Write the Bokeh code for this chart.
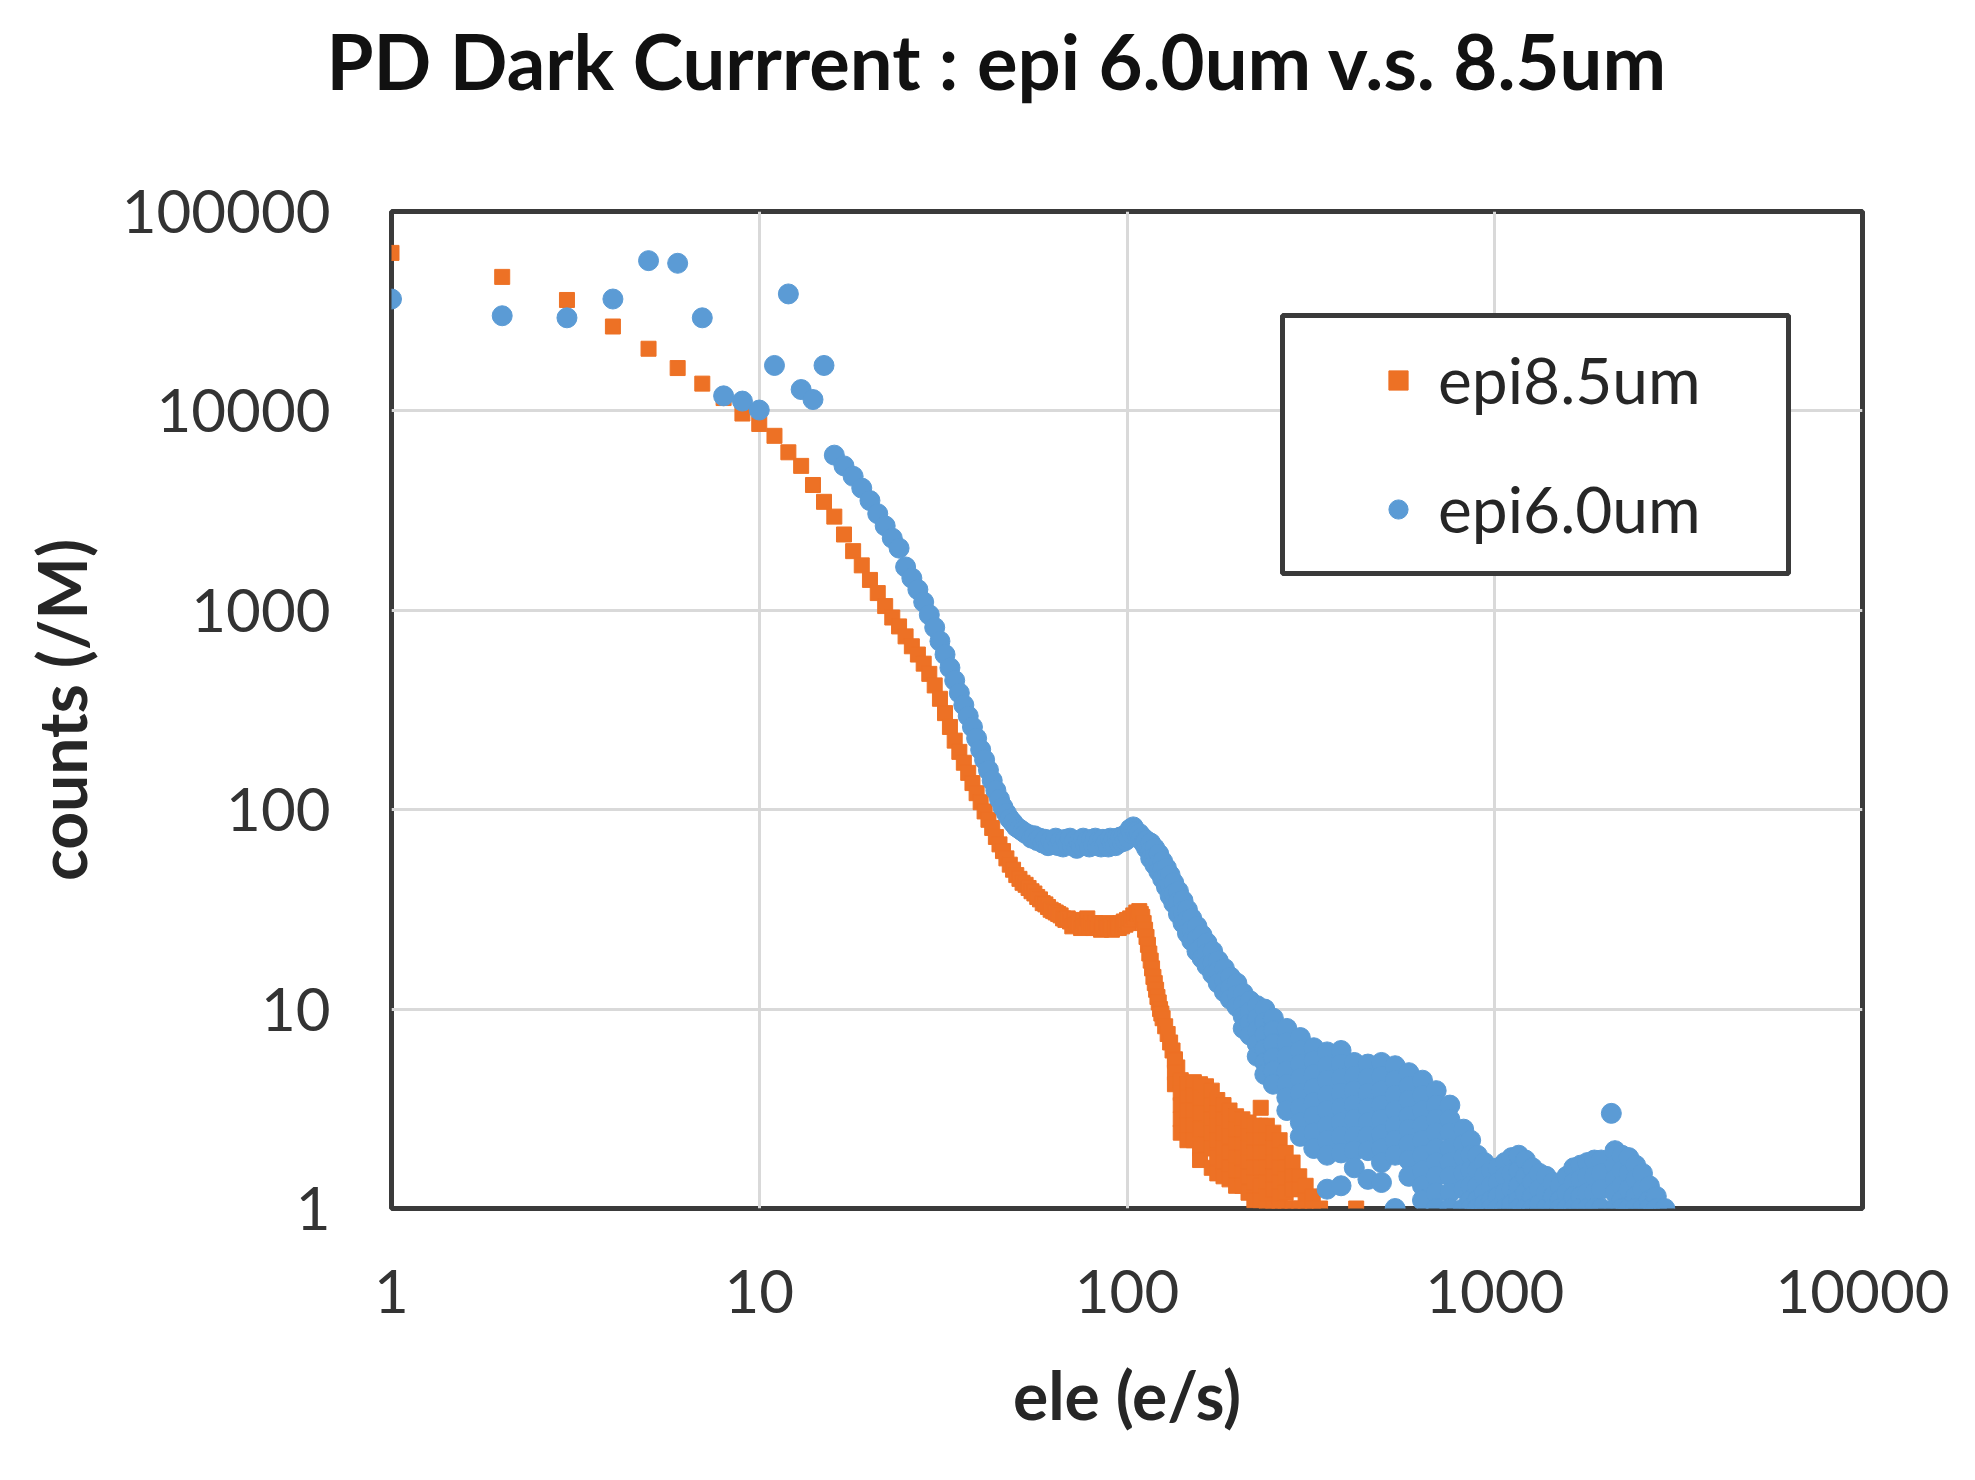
from bokeh.plotting import figure
from bokeh.models import Legend, LegendItem, FixedTicker, Title, BoxAnnotation
from bokeh.embed import file_html
from bokeh.resources import INLINE

ORANGE = "#ED7125"
BLUE = "#5B9BD5"

# ---- epi8.5um : one value per x (x = 1..50, then 51..125, then a few more)
o_x_head = list(range(1, 51))
o_y_head = [62000, 47000, 36000, 26500, 20500, 16400, 13700, 11600, 9700, 8600,
            7500, 6200, 5300, 4250, 3500, 2950, 2400, 1980, 1680, 1420,
            1220, 1050, 920, 830, 740, 660, 600, 540, 480, 420,
            360, 305, 260, 222, 195, 172, 153, 136, 121, 109,
            98, 89, 81, 73, 67, 62, 57, 53, 50, 47]
o_x_mid = list(range(51, 126)) + [127, 129, 131, 133, 135, 137]
o_y_mid = [45, 43, 42, 40.5, 39, 38, 36.5, 35.5, 34, 33.5,
           32.5, 31.5, 31, 30.5, 30, 29.5, 28.5, 28, 28.5, 27.5,
           26, 28, 26.5, 27, 25.5, 27.5, 26, 28.5, 26, 27,
           25.5, 27, 25.5, 26.5, 25, 26.5, 25.5, 27, 25.5, 26,
           25, 26.5, 25.5, 26, 25.5, 27, 26, 27.5, 26.5, 28,
           27, 28.5, 28, 29.5, 29, 30.5, 30, 31, 30, 29,
           27, 25, 23, 21, 19, 17.5, 16, 14.5, 13.5, 12.5,
           11.5, 10.8, 10, 9.5, 9,
           8.2, 7.5, 6.8, 6.2, 5.6, 5.1]
# tail: several counts read at the same x
o_tail_x = [135, 140, 146, 152, 158, 164, 170, 176, 183, 190, 198, 206, 214,
            222, 231, 240, 250, 260, 270, 282, 294, 306, 320, 335, 420]
o_tail_y = [[5.5, 4.8, 4.2],
            [4.4, 3.8, 3.3, 2.8, 2.4],
            [4.2, 3.6, 3.1, 2.6, 2.2],
            [4.3, 3.7, 3.1, 2.6, 2.2],
            [4.2, 3.6, 3.0, 2.5, 2.0, 1.75],
            [4.1, 3.5, 3.0, 2.5, 2.1],
            [3.9, 3.3, 2.8, 2.4, 2.0, 1.6],
            [3.5, 3.0, 2.6, 2.2, 1.8, 1.5],
            [3.3, 2.8, 2.4, 2.0, 1.7, 1.45],
            [3.1, 2.7, 2.3, 1.9, 1.6, 1.4],
            [2.9, 2.5, 2.1, 1.8, 1.55, 1.3],
            [2.8, 2.4, 2.1, 1.8, 1.5, 1.3],
            [2.7, 2.3, 2.0, 1.7, 1.45, 1.2],
            [2.6, 2.2, 1.9, 1.6, 1.35, 1.1],
            [3.2, 2.6, 2.2, 1.9, 1.6, 1.3, 1.1],
            [2.6, 2.2, 1.9, 1.6, 1.35, 1.15, 1.0],
            [2.4, 2.0, 1.7, 1.45, 1.25, 1.0],
            [2.2, 1.85, 1.6, 1.35, 1.15, 1.0],
            [1.9, 1.6, 1.4, 1.2, 1.0],
            [1.7, 1.45, 1.25, 1.0],
            [1.45, 1.25, 1.0],
            [1.3, 1.1, 1.0],
            [1.15, 1.0],
            [1.0],
            [1.0]]

# ---- epi6.0um
b_x_head = list(range(1, 51))
b_y_head = [36400, 30000, 29300, 36400, 56700, 55000, 29300, 11900, 11200, 10100,
            16900, 38600, 12800, 11400, 16900, 6000, 5300, 4700, 4100, 3550,
            3050, 2650, 2300, 2050, 1650, 1450, 1270, 1100, 950, 820,
            700, 600, 515, 445, 385, 335, 295, 260, 228, 200,
            178, 158, 140, 125, 113, 103, 96, 90, 86, 82]
b_x_mid = list(range(51, 113))
b_y_mid = [80, 78, 76, 75, 72, 74, 70, 72, 68, 71,
           66, 70, 67, 72, 66, 70, 65, 71, 67, 72,
           66, 70, 64, 69, 66, 72, 67, 70, 65, 71,
           67, 72, 66, 70, 65, 71, 67, 69, 65, 72,
           68, 71, 66, 72, 68, 73, 69, 74, 70, 75,
           72, 80, 76, 82, 78, 77, 74, 76, 71, 73,
           68, 70]
b_tail_x = [113, 116, 119, 122, 125, 128, 131, 134, 138, 142, 146, 150, 155,
            160, 165, 171, 177, 184, 191, 199, 207, 216, 226, 237, 250, 272,
            296, 322, 350, 382, 415, 452, 492, 536, 584, 636, 693, 755, 823,
            860, 897, 937, 978, 1020, 1066, 1112, 1162, 1212, 1266, 1322,
            1380, 1440, 1504, 1570, 1640, 1712, 1787, 1866, 1948, 2075,
            2123, 2216, 2314, 2416, 2522, 2633, 2750, 2900]
b_tail_y = [[70, 64],
            [68, 62, 57],
            [64, 58, 53],
            [60, 54, 49],
            [55, 50, 45],
            [51, 46, 41],
            [47, 42, 37],
            [43, 38, 34],
            [39, 34.5, 30],
            [35, 31, 27],
            [31.5, 28, 24],
            [28.5, 25, 22],
            [26, 22.5, 19.5],
            [23.5, 20.5, 18],
            [21.5, 19, 16.5],
            [19.5, 17, 15],
            [17.5, 15.5, 13.5],
            [16, 14, 12.2],
            [14.5, 12.8, 11.2],
            [13.5, 11.8, 10.3],
            [12, 10.5, 9.2, 8.0],
            [11, 9.7, 8.5, 7.4],
            [10.4, 9.0, 7.8, 6.7, 5.8],
            [10, 8.6, 7.4, 6.3, 5.4, 4.7],
            [9.0, 7.8, 6.7, 5.7, 4.9, 4.2],
            [8.0, 6.8, 5.8, 4.9, 4.2, 3.6, 3.1],
            [7.2, 6.2, 5.3, 4.5, 3.8, 3.2, 2.7, 2.3],
            [6.4, 5.5, 4.7, 4.0, 3.4, 2.9, 2.4, 2.0],
            [6.1, 5.2, 4.4, 3.7, 3.1, 2.6, 2.2, 1.85, 1.25],
            [6.2, 5.3, 4.5, 3.8, 3.2, 2.7, 2.3, 1.9, 1.3],
            [5.4, 4.6, 3.9, 3.3, 2.8, 2.3, 1.95, 1.6],
            [5.3, 4.5, 3.8, 3.2, 2.7, 2.3, 1.95, 1.4],
            [5.4, 4.6, 3.9, 3.3, 2.8, 2.35, 2.0, 1.7, 1.35],
            [5.2, 4.4, 3.7, 3.1, 2.6, 2.2, 1.85, 1.0],
            [4.8, 4.1, 3.5, 2.9, 2.5, 2.1, 1.75, 1.45],
            [4.4, 3.7, 3.1, 2.6, 2.2, 1.85, 1.55, 1.3, 1.1],
            [3.9, 3.3, 2.8, 2.4, 2.0, 1.7, 1.45, 1.2, 1.0],
            [3.3, 2.8, 2.4, 2.0, 1.7, 1.45, 1.2, 1.0],
            [2.5, 2.1, 1.8, 1.5, 1.25, 1.0],
            [2.2, 1.85, 1.55, 1.3, 1.1, 1.0],
            [1.85, 1.55, 1.3, 1.1, 1.0],
            [1.7, 1.45, 1.2, 1.05],
            [1.55, 1.3, 1.1, 1.0],
            [1.6, 1.35, 1.15, 1.0],
            [1.7, 1.45, 1.2, 1.0],
            [1.8, 1.5, 1.25, 1.05],
            [1.85, 1.55, 1.3, 1.1, 1.0],
            [1.75, 1.45, 1.2, 1.0],
            [1.6, 1.35, 1.15, 1.0],
            [1.5, 1.25, 1.05],
            [1.45, 1.2, 1.0],
            [1.35, 1.15, 1.0],
            [1.3, 1.1, 1.0],
            [1.45, 1.2, 1.0],
            [1.6, 1.35, 1.15, 1.0],
            [1.65, 1.4, 1.15, 1.0],
            [1.7, 1.45, 1.2, 1.0],
            [1.75, 1.45, 1.2, 1.0],
            [1.75, 1.5, 1.25, 1.0],
            [3.0],
            [1.95, 1.65, 1.4, 1.2, 1.0],
            [1.85, 1.55, 1.3, 1.1, 1.0],
            [1.8, 1.5, 1.25, 1.0],
            [1.65, 1.4, 1.15, 1.0],
            [1.5, 1.25, 1.0],
            [1.3, 1.1, 1.0],
            [1.15, 1.0],
            [1.0]]

x_ticks = [1, 10, 100, 1000, 10000]
x_tick_labels = ["1", "10", "100", "1000", "10000"]
y_ticks = [1, 10, 100, 1000, 10000, 100000]
y_tick_labels = ["1", "10", "100", "1000", "10000", "100000"]


def spread(xs, cols):
    fx, fy = [], []
    for x, col in zip(xs, cols):
        fx += [x] * len(col)
        fy += col
    return fx, fy


ot_x, ot_y = spread(o_tail_x, o_tail_y)
bt_x, bt_y = spread(b_tail_x, b_tail_y)

p = figure(width=1960, height=1464, x_axis_type="log", y_axis_type="log",
           x_range=(1, 10000), y_range=(1, 100000), title_location=None,
           output_backend="svg", toolbar_location=None,
           min_border_left=391, min_border_right=98,
           min_border_top=211, min_border_bottom=256)

# blank title next to the frame pushes the real title up to the top edge
p.add_layout(Title(text=" ", text_font="Lato", text_font_size="20px",
                   standoff=70), "above")
p.add_layout(Title(text="PD Dark Currrent : epi 6.0um v.s. 8.5um",
                   text_font="Lato", text_font_size="76px",
                   text_font_style="bold", text_color="#111111",
                   align="left", offset=-65, standoff=20), "above")

# series 1 below, series 2 on top (as in the spreadsheet)
o = p.scatter(o_x_head + o_x_mid + ot_x, o_y_head + o_y_mid + ot_y,
              marker="square", size=15, color=ORANGE)
b = p.scatter(b_x_head + b_x_mid + bt_x, b_y_head + b_y_mid + bt_y,
              marker="circle", size=20, color=BLUE)

xt = FixedTicker(ticks=x_ticks, minor_ticks=[])
yt = FixedTicker(ticks=y_ticks, minor_ticks=[])
p.xaxis.ticker = xt
p.yaxis.ticker = yt
p.xgrid.ticker = xt
p.ygrid.ticker = yt
p.xaxis.major_label_overrides = dict(zip(x_ticks, x_tick_labels))
p.yaxis.major_label_overrides = dict(zip(y_ticks, y_tick_labels))

for ax in (p.xaxis, p.yaxis):
    ax.axis_line_color = None
    ax.major_tick_line_color = None
    ax.minor_tick_line_color = None
    ax.major_label_text_font = "Lato"
    ax.major_label_text_font_size = "60px"
    ax.major_label_text_color = "#333333"
    ax.major_label_standoff = 55
    ax.axis_label_text_font = "Lato"
    ax.axis_label_text_font_size = "66px"
    ax.axis_label_text_font_style = "bold"
    ax.axis_label_text_color = "#262626"

p.xaxis.axis_label = "ele (e/s)"
p.yaxis.axis_label = "counts (/M)"
p.xaxis.axis_label_standoff = 39
p.yaxis.axis_label_standoff = 18

p.xgrid.grid_line_color = "#d9d9d9"
p.ygrid.grid_line_color = "#d9d9d9"
p.xgrid.grid_line_width = 3
p.ygrid.grid_line_width = 3

p.outline_line_color = "#3a3a3a"
p.outline_line_width = 5
p.background_fill_color = "white"
p.border_fill_color = "white"

# legend frame (screen units, measured from the plot frame's bottom-left)
box = BoxAnnotation(left=891, right=1397, bottom=635, top=893,
                    left_units="screen", right_units="screen",
                    bottom_units="screen", top_units="screen",
                    fill_color="white", fill_alpha=1,
                    line_color="#3a3a3a", line_width=5, line_alpha=1)
p.add_layout(box)

legend = Legend(items=[LegendItem(label="epi8.5um", renderers=[o]),
                       LegendItem(label="epi6.0um", renderers=[b])],
                location=(983, 661), padding=0, spacing=52, margin=0,
                glyph_width=48, glyph_height=48,
                label_height=48, label_standoff=16,
                label_text_font="Lato", label_text_font_size="64px",
                label_text_color="#262626",
                border_line_color=None, background_fill_alpha=0)
p.add_layout(legend)

open("out.html", "w").write(file_html(p, INLINE))
